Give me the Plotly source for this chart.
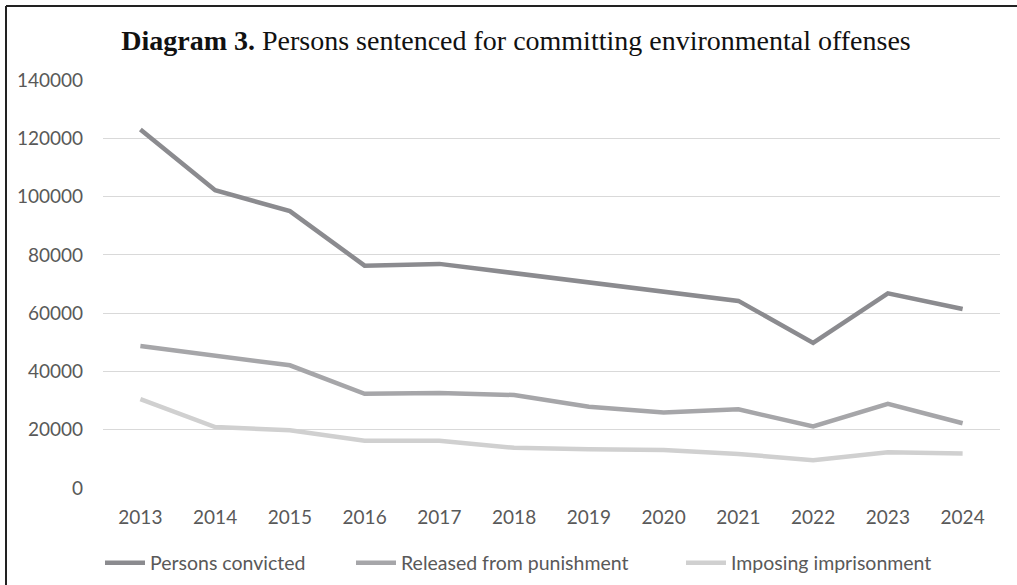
import plotly.graph_objects as go

years = ["2013", "2014", "2015", "2016", "2017", "2018", "2019", "2020", "2021", "2022", "2023", "2024"]
persons_convicted = [123000, 102200, 95000, 76300, 76900, 73700, 70500, 67500, 64200, 49800, 66800, 61400]
released_from_punishment = [48700, 45300, 42100, 32300, 32600, 31900, 27900, 25900, 27000, 21100, 28900, 22200]
imposing_imprisonment = [30500, 20900, 19800, 16200, 16200, 13800, 13300, 13000, 11700, 9500, 12300, 11800]

series = [
    ("Persons convicted", persons_convicted, "#8b8b8f", "legend"),
    ("Released from punishment", released_from_punishment, "#a6a6a9", "legend2"),
    ("Imposing imprisonment", imposing_imprisonment, "#d0d0d0", "legend3"),
]

fig = go.Figure()
for name, vals, color, lg in series:
    fig.add_trace(go.Scatter(x=years, y=vals, name=name, mode="lines",
                             line=dict(color=color, width=4.5), legend=lg))

L, R, T, B = 103, 17, 80, 97
W, H = 1017, 585
pw, ph = W - L - R, H - T - B

def px(x):
    return (x - L) / pw

def py(y):
    return (H - B - y) / ph

def legend_at(left_pix):
    return dict(
        orientation="h", x=left_pix / W, xref="container", xanchor="left",
        y=1 - 563 / H, yref="container", yanchor="middle",
        font=dict(family="Lato", size=19.5, color="#595959"),
        itemwidth=40, bgcolor="rgba(0,0,0,0)",
    )

fig.update_layout(
    width=W, height=H,
    margin=dict(l=L, r=R, t=T, b=B, autoexpand=False),
    paper_bgcolor="white", plot_bgcolor="white",
    title=dict(
        text="<b>Diagram 3.</b> Persons sentenced for committing environmental offenses",
        font=dict(family="Liberation Serif", size=28, color="#111111"),
        x=px(516), xref="paper", xanchor="center",
        y=1 - 40 / H, yanchor="middle",
    ),
    xaxis=dict(
        type="category", range=[-0.5, 11.5], showgrid=False, zeroline=False,
        showline=False, ticks="",
        tickfont=dict(family="Lato", size=19, color="#595959"),
        ticklabelstandoff=16,
    ),
    yaxis=dict(
        range=[0, 140000], dtick=20000, tickformat="d",
        showgrid=True, gridcolor="#d9d9d9", gridwidth=1.3,
        zeroline=False, showline=False, ticks="",
        tickfont=dict(family="Lato", size=19, color="#595959"),
        ticklabelstandoff=19,
    ),
    legend=legend_at(100),
    legend2=legend_at(351),
    legend3=legend_at(681),
    showlegend=True,
)

fig.add_shape(type="line", xref="paper", yref="paper",
              x0=px(6), x1=px(1017), y0=py(6), y1=py(6),
              line=dict(color="#222222", width=2))
fig.add_shape(type="line", xref="paper", yref="paper",
              x0=px(6), x1=px(6), y0=py(6), y1=py(585),
              line=dict(color="#222222", width=2))

fig.write_html("out.html")
